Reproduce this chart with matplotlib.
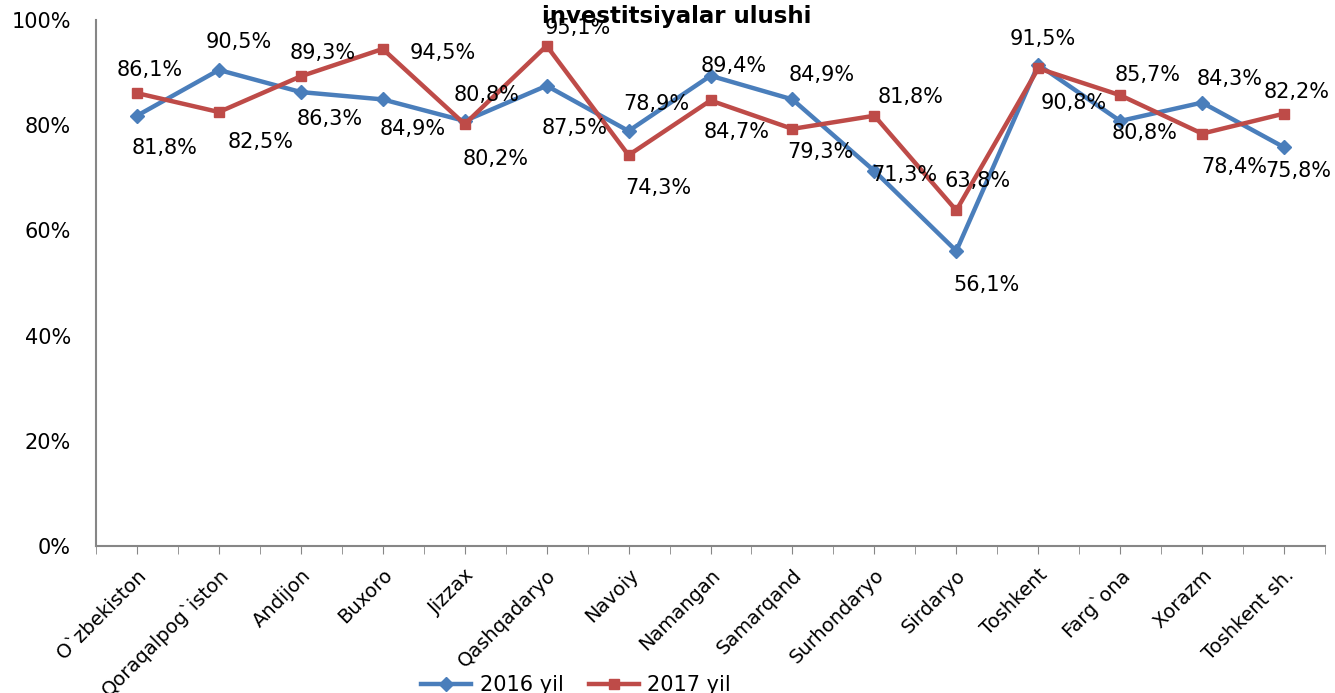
import numpy as np
import matplotlib.pyplot as plt

# data
regions = ["O`zbekiston", "Qoraqalpog`iston", "Andijon", "Buxoro", "Jizzax",
           "Qashqadaryo", "Navoiy", "Namangan", "Samarqand", "Surhondaryo",
           "Sirdaryo", "Toshkent", "Farg`ona", "Xorazm", "Toshkent sh."]
share_2016 = [81.8, 90.5, 86.3, 84.9, 80.8, 87.5, 78.9, 89.4, 84.9, 71.3,
              56.1, 91.5, 80.8, 84.3, 75.8]
share_2017 = [86.1, 82.5, 89.3, 94.5, 80.2, 95.1, 74.3, 84.7, 79.3, 81.8,
              63.8, 90.8, 85.7, 78.4, 82.2]
series_names = ["2016 yil", "2017 yil"]
title = "investitsiyalar ulushi"

# label offsets in pixels (dx, dy up-positive)
off_2016 = [(28, -32), (20, 28), (29, -27), (30, -30), (22, 26), (28, -42),
            (28, 27), (23, 10), (29, 24), (30, -4), (30, -34), (5, 26),
            (24, -12), (28, 24), (14, -24)]
off_2017 = [(13, 23), (42, -30), (22, 23), (60, -4), (31, -35), (31, 18),
            (30, -33), (26, -32), (28, -23), (36, 19), (21, 29), (35, -35),
            (27, 20), (32, -33), (13, 22)]

blue = "#4A7EBB"
red = "#BE4B48"
plt.rcParams['font.family'] = ['DejaVu Sans']

fig = plt.figure(figsize=(13.35, 6.93), dpi=100)
ax = fig.add_axes([96/1335, 1-546/693, (1325-96)/1335, (546-20)/693])

x = np.arange(len(regions))
ax.plot(x, share_2016, color=blue, lw=3.2, marker='D', ms=7, label=series_names[0], zorder=3)
ax.plot(x, share_2017, color=red, lw=3.2, marker='s', ms=6.5, label=series_names[1], zorder=3)

for xi, v, o in zip(x, share_2016, off_2016):
    ax.annotate(f"{v:.1f}%".replace('.', ','), (xi, v), xytext=o,
                textcoords='offset pixels', ha='center', va='center', fontsize=15)
for xi, v, o in zip(x, share_2017, off_2017):
    ax.annotate(f"{v:.1f}%".replace('.', ','), (xi, v), xytext=o,
                textcoords='offset pixels', ha='center', va='center', fontsize=15)

ax.set_xlim(-0.5, len(regions) - 0.5)
ax.set_ylim(0, 100)
ax.set_yticks(np.arange(0, 101, 20))
ax.set_yticklabels([f"{v}%" for v in range(0, 101, 20)], fontsize=15)
ax.tick_params(axis='y', length=0, pad=18)

ax.set_xticks(x)
ax.set_xticklabels(regions, rotation=45, ha='right', rotation_mode='anchor', fontsize=14)
ax.set_xticks(np.arange(-0.5, len(regions), 1), minor=True)
ax.tick_params(axis='x', which='both', length=6, color='#868686', pad=8)

for s in ['top', 'right']:
    ax.spines[s].set_visible(False)
for s in ['left', 'bottom']:
    ax.spines[s].set_color('#868686')
    ax.spines[s].set_linewidth(1.5)

fig.text(677/1335, 1-17/693, title, ha='center', va='center', fontsize=16.5, fontweight='bold')
fig.legend(loc='center', bbox_to_anchor=(576/1335, 1-685/693), ncol=2, frameon=False,
           fontsize=15, handlelength=2.4, columnspacing=1.2, handletextpad=0.4)

fig.savefig("out.png", dpi=100)
